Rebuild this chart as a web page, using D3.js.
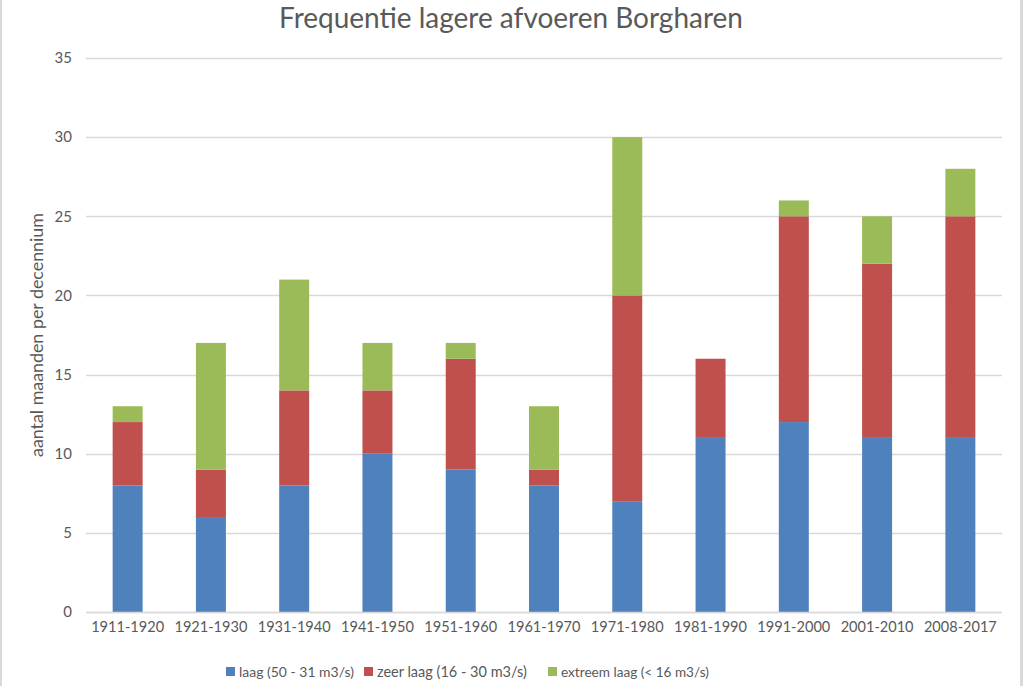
<!DOCTYPE html>
<html><head><meta charset="utf-8">
<script src="https://cdn.jsdelivr.net/npm/d3@7"></script>
<style>
html,body{margin:0;padding:0;background:#fff;}
svg{display:block;}
text{font-family:Lato,"Open Sans",sans-serif;fill:#595959;}
</style></head>
<body>
<svg id="c" width="1024" height="686"></svg>
<script>
const categories = ["1911-1920","1921-1930","1931-1940","1941-1950","1951-1960","1961-1970","1971-1980","1981-1990","1991-2000","2001-2010","2008-2017"];
const laag     = [8, 6, 8, 10, 9, 8, 7, 11, 12, 11, 11];
const zeerLaag = [4, 3, 6, 4, 7, 1, 13, 5, 13, 11, 14];
const extreem  = [1, 8, 7, 3, 1, 4, 10, 0, 1, 3, 3];
const seriesNames = ["laag (50 - 31 m3/s)", "zeer laag (16 - 30 m3/s)", "extreem laag (< 16 m3/s)"];
const yTicks = [0, 5, 10, 15, 20, 25, 30, 35];
const colors = ["#4f81bd", "#c0504d", "#9bbb59"];
const FONT = "Lato,'Open Sans',sans-serif";

const svg = d3.select("#c");
svg.append("rect").attr("x",0.5).attr("y",-2).attr("width",1021).attr("height",690)
  .attr("fill","none").attr("stroke","#d9d9d9").attr("stroke-width",3);

const x = d3.scaleBand().domain(categories).range([86, 1002]).paddingInner(0.64).paddingOuter(0.32);
const y = d3.scaleLinear().domain([0, 35]).range([612, 58]);

function fit(sel, w){ const n = sel.node(); const fs = parseFloat(sel.attr("font-size")); const l = n.getComputedTextLength(); sel.attr("font-size", fs * w / l); }

svg.append("g").selectAll("line").data(yTicks).join("line")
  .attr("x1",86).attr("x2",1002).attr("y1",d=>Math.round(y(d))+0.5).attr("y2",d=>Math.round(y(d))+0.5)
  .attr("stroke","#d9d9d9").attr("stroke-width",1.5);

const ya = d3.axisLeft(y).tickValues(yTicks).tickSize(0).tickPadding(0);
const yg = svg.append("g").attr("transform","translate(72,0)").call(ya);
yg.select(".domain").remove();
yg.selectAll("text").attr("font-size",15).attr("fill","#595959").attr("font-family",FONT);

const rows = categories.map((c,i)=>({cat:c, s0:laag[i], s1:zeerLaag[i], s2:extreem[i]}));
const stack = d3.stack().keys(["s0","s1","s2"])(rows);
svg.append("g").selectAll("g").data(stack).join("g").attr("fill",(d,i)=>colors[i])
  .selectAll("rect").data(d=>d).join("rect")
  .attr("x",d=>x(d.data.cat)).attr("width",x.bandwidth())
  .attr("y",d=>y(d[1])).attr("height",d=>y(d[0])-y(d[1]));

svg.append("line").attr("x1",86).attr("x2",1002).attr("y1",612.5).attr("y2",612.5).attr("stroke","#d9d9d9").attr("stroke-width",1.5);

const xa = d3.axisBottom(x).tickSize(0).tickPadding(0);
const xg = svg.append("g").attr("transform","translate(0,613)").call(xa);
xg.select(".domain").remove();
xg.selectAll("text").attr("font-size",14).attr("dy","1.3em").attr("fill","#595959").attr("font-family",FONT);
xg.selectAll("text").each(function(){ fit(d3.select(this), 73); });

const t = svg.append("text").attr("x",511).attr("y",28).attr("text-anchor","middle").attr("font-size",26)
  .text("Frequentie lagere afvoeren Borgharen");
fit(t, 464);

const yl = svg.append("text").attr("transform","translate(43,335) rotate(-90)").attr("text-anchor","middle").attr("font-size",15)
  .text("aantal maanden per decennium");
fit(yl, 244);

const legX = [226, 364, 548];
const legW = [115, 150, 148];
const lg = svg.append("g");
seriesNames.forEach((n,i)=>{
  lg.append("rect").attr("x",legX[i]).attr("y",667).attr("width",9).attr("height",9).attr("fill",colors[i]);
  const tt = lg.append("text").attr("x",legX[i]+13).attr("y",677).attr("font-size",14).text(n);
  fit(tt, legW[i]);
});
</script>
</body></html>
